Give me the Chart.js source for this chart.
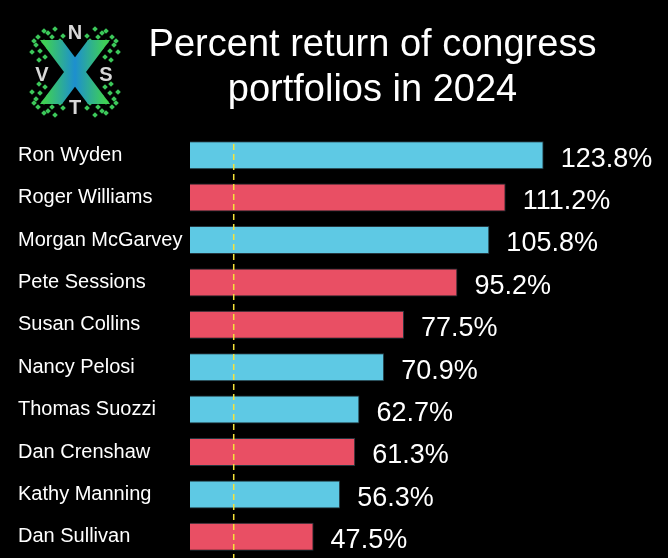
<!DOCTYPE html>
<html><head><meta charset="utf-8">
<script src="https://cdn.jsdelivr.net/npm/chart.js@4/dist/chart.umd.min.js"></script>
<style>html,body{margin:0;padding:0;background:#000;}#wrap{width:668px;height:558px;position:relative}</style>
</head><body><div id="wrap"><canvas id="c" width="668" height="558"></canvas></div>
<script>
// ---- data ----
const names = ['Ron Wyden','Roger Williams','Morgan McGarvey','Pete Sessions','Susan Collins','Nancy Pelosi','Thomas Suozzi','Dan Crenshaw','Kathy Manning','Dan Sullivan'];
const returns = [123.8, 111.2, 105.8, 95.2, 77.5, 70.9, 62.7, 61.3, 56.3, 47.5];
const parties = ['D','R','D','R','R','D','D','R','D','R'];
const benchmark = 21;
const titleLines = ['Percent return of congress', 'portfolios in 2024'];
const logoLetters = ['N','V','S','T'];
const xMin = 6.5, xMax = 128.9;

const partyColor = {D:'#5ec9e4', R:'#e94f64'};
const FONT = "'Liberation Sans', Arial, Helvetica, sans-serif";

const bgPlugin = {
  id:'bg',
  beforeDraw(chart){
    const ctx = chart.ctx; ctx.save(); ctx.fillStyle='#000';
    ctx.fillRect(0,0,chart.width,chart.height); ctx.restore();
  }
};

const titlePlugin = {
  id:'ttl',
  afterDraw(chart){
    const ctx = chart.ctx;
    ctx.save();
    ctx.fillStyle = '#fff'; ctx.font = '38px ' + FONT;
    ctx.textAlign = 'center'; ctx.textBaseline = 'alphabetic';
    ctx.fillText(titleLines[0], 372.5, 56);
    ctx.fillText(titleLines[1], 372.5, 101);
    ctx.restore();
  }
};

const benchPlugin = {
  id:'bench',
  afterDatasetsDraw(chart){
    const {ctx, chartArea, scales} = chart;
    const x = scales.x.getPixelForValue(benchmark);
    ctx.save();
    ctx.strokeStyle = '#f5e33a'; ctx.lineWidth = 1.5; ctx.setLineDash([6,4]);
    ctx.beginPath(); ctx.moveTo(x, chartArea.top + 10); ctx.lineTo(x, chartArea.bottom); ctx.stroke();
    ctx.restore();
  }
};

const valuePlugin = {
  id:'values',
  afterDatasetsDraw(chart){
    const ctx = chart.ctx; const meta = chart.getDatasetMeta(0);
    ctx.save();
    ctx.font = '27px ' + FONT; ctx.fillStyle = '#fff';
    ctx.textAlign = 'left'; ctx.textBaseline = 'middle';
    meta.data.forEach((bar, i) => {
      ctx.fillText(returns[i].toFixed(1) + '%', bar.x + 17, bar.y + 4);
    });
    ctx.restore();
  }
};

const logoPlugin = {
  id:'logo',
  afterDraw(chart){
    const ctx = chart.ctx;
    const cx = 75, cy = 72;
    ctx.save();
    // dot clusters in the four corners
    const dots = [[-26,-24],[-20,-29],[-31,-30],[-35,-21],[-23,-35],[-30,-15],[-15,-31],[-39,-27],[-27,-39],[-36,-12],[-12,-36],[-37,-35],[-43,-20],[-20,-43],[-41,-31],[-31,-41]];
    ctx.fillStyle = '#3cc85a';
    [[1,1],[-1,1],[1,-1],[-1,-1]].forEach(([sx,sy])=>{
      dots.forEach(([dx,dy])=>{
        const px = cx + dx*sx, py = cy + dy*sy;
        ctx.save(); ctx.translate(px,py); ctx.rotate(Math.PI/4);
        ctx.fillRect(-2,-2,4,4); ctx.restore();
      });
    });
    // X shape
    const g = ctx.createLinearGradient(cx-30,0,cx+30,0);
    g.addColorStop(0,'#3fcf55'); g.addColorStop(0.5,'#1d8fcf'); g.addColorStop(1,'#3fcf55');
    ctx.fillStyle = g;
    const w = 11;
    ctx.beginPath();
    ctx.moveTo(cx-24-w, cy-32); ctx.lineTo(cx-24+w, cy-32);
    ctx.lineTo(cx+24+w, cy+32); ctx.lineTo(cx+24-w, cy+32); ctx.closePath(); ctx.fill();
    ctx.beginPath();
    ctx.moveTo(cx+24+w, cy-32); ctx.lineTo(cx+24-w, cy-32);
    ctx.lineTo(cx-24-w, cy+32); ctx.lineTo(cx-24+w, cy+32); ctx.closePath(); ctx.fill();
    // letters
    ctx.fillStyle = '#d8d8d8'; ctx.font = 'bold 20px ' + FONT;
    ctx.textAlign = 'center'; ctx.textBaseline = 'middle';
    const pos = [[cx, cy-39],[cx-33, cy+3],[cx+31, cy+3],[cx, cy+36]];
    logoLetters.forEach((l,i)=>{ ctx.fillText(l, pos[i][0], pos[i][1]); });
    ctx.restore();
  }
};

new Chart(document.getElementById('c'), {
  type:'bar',
  data:{
    labels: names,
    datasets:[{
      data: returns,
      base: xMin,
      backgroundColor: parties.map(p => partyColor[p]),
      borderColor: 'rgba(40,60,70,0.9)',
      borderWidth: 1,
      barPercentage: 0.66,
      categoryPercentage: 1
    }]
  },
  options:{
    indexAxis:'y',
    responsive:false,
    animation:false,
    devicePixelRatio:1,
    layout:{padding:{left:18, right:109, top:134, bottom:0}},
    plugins:{
      legend:{display:false},
      tooltip:{enabled:false},
      title:{display:false}
    },
    scales:{
      x:{display:false, min:xMin, max:xMax},
      y:{
        grid:{display:false}, border:{display:false},
        ticks:{color:'#fff', crossAlign:'far', font:{family:FONT, size:20}, padding:0},
        afterFit(scale){ scale.width = 172; scale.paddingTop = 0; scale.paddingBottom = 0; }
      }
    }
  },
  plugins:[bgPlugin, benchPlugin, valuePlugin, titlePlugin, logoPlugin]
});
</script></body></html>
